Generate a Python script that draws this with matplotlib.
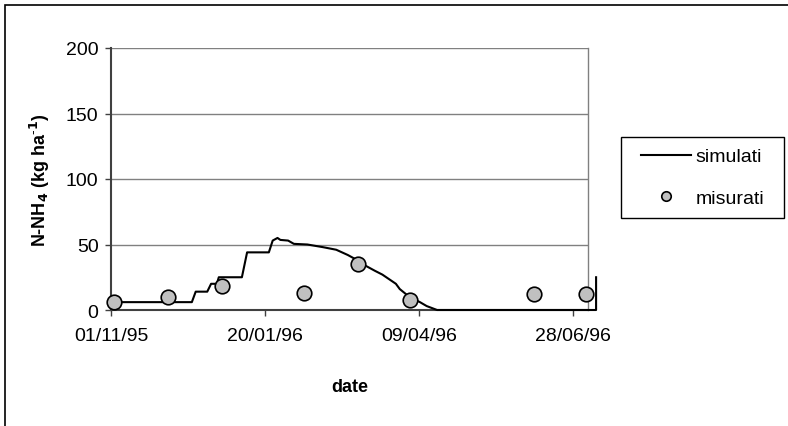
import numpy as np
import matplotlib.pyplot as plt
import matplotlib.dates as mdates
from matplotlib.patches import Rectangle

plt.rcParams['font.family'] = ['Liberation Sans', 'DejaVu Sans']

start = np.datetime64('1995-11-01')

# simulated N-NH4 (days after 01/11/95, kg/ha)
sim_days = [0, 42, 44, 50, 52, 55, 56, 68, 70.7, 82, 84, 86.5, 88, 92, 95, 102,
            110, 117, 123, 128, 132, 137, 141, 145, 148, 150, 155, 160.5, 164,
            169.4, 252, 252]
sim_vals = [6, 6, 14, 14, 20, 20, 25, 25, 44, 44, 53, 55, 53.5, 53, 50.5, 50,
            48, 46, 42, 38, 34, 30, 27, 23, 20, 16, 10, 6, 3,
            0, 0, 25]

# measured
mis_days = [1.5, 29.5, 57.5, 100.5, 128.5, 155.4, 219.7, 247]
mis_vals = [6, 10, 18, 13, 35, 8, 12, 12]

tick_days = [0, 80, 160, 240]

to_dates = lambda d: start + (np.array(d) * 24 * 60).astype('timedelta64[m]')

fig = plt.figure(figsize=(7.88, 4.27), dpi=100)
ax = fig.add_axes([111/788, 1-311/427, (588-111)/788, (311-49)/427])

ax.plot(to_dates(sim_days), sim_vals, color='black', lw=1.5, label='simulati', clip_on=False, zorder=3)
ax.plot(to_dates(mis_days), mis_vals, 'o', ms=10.5, mfc='#c0c0c0', mec='black', mew=1.2,
        label='misurati', clip_on=False, zorder=4)

ax.set_xlim(to_dates([0])[0], to_dates([247.8])[0])
ax.set_ylim(0, 200)
ax.set_yticks([0, 50, 100, 150, 200])
ax.set_xticks(to_dates(tick_days))
ax.xaxis.set_major_formatter(mdates.DateFormatter('%d/%m/%y'))
ax.yaxis.grid(True, color='#808080', lw=1)
ax.set_axisbelow(True)

for s in ['left', 'bottom']:
    ax.spines[s].set_color('#404040')
    ax.spines[s].set_linewidth(1.5)
ax.spines['right'].set_color('#808080')
ax.spines['right'].set_linewidth(1)
ax.spines['top'].set_visible(False)
ax.tick_params(direction='out', length=4, width=1, color='#404040', labelsize=14, pad=5)
ax.tick_params(axis='x', pad=8)

ax.set_ylabel(r'N-NH$_\mathbf{4}$ (kg ha$^{\text{-}\mathbf{1}}$)', fontsize=13, fontweight='bold', labelpad=10)
ax.set_xlabel('date', fontsize=13, fontweight='bold', labelpad=25)

# legend box drawn separately, entries centred in it
box = (621/788, 1-219/427, (784-621)/788, (219-138)/427)
fig.patches.append(Rectangle(box[:2], box[2], box[3], transform=fig.transFigure,
                             fill=False, edgecolor='black', lw=1))
leg = ax.legend(loc='center', bbox_to_anchor=box, bbox_transform=fig.transFigure,
                frameon=False, fontsize=14, handlelength=2.6, handletextpad=0.2,
                labelspacing=1.25, borderpad=0, borderaxespad=0, markerscale=0.65)

fig.patches.append(Rectangle((5/788, -0.1), 1.2, 1-6/427+0.1, transform=fig.transFigure,
                             fill=False, edgecolor='black', lw=1.2))

fig.savefig('out.png', dpi=100)
